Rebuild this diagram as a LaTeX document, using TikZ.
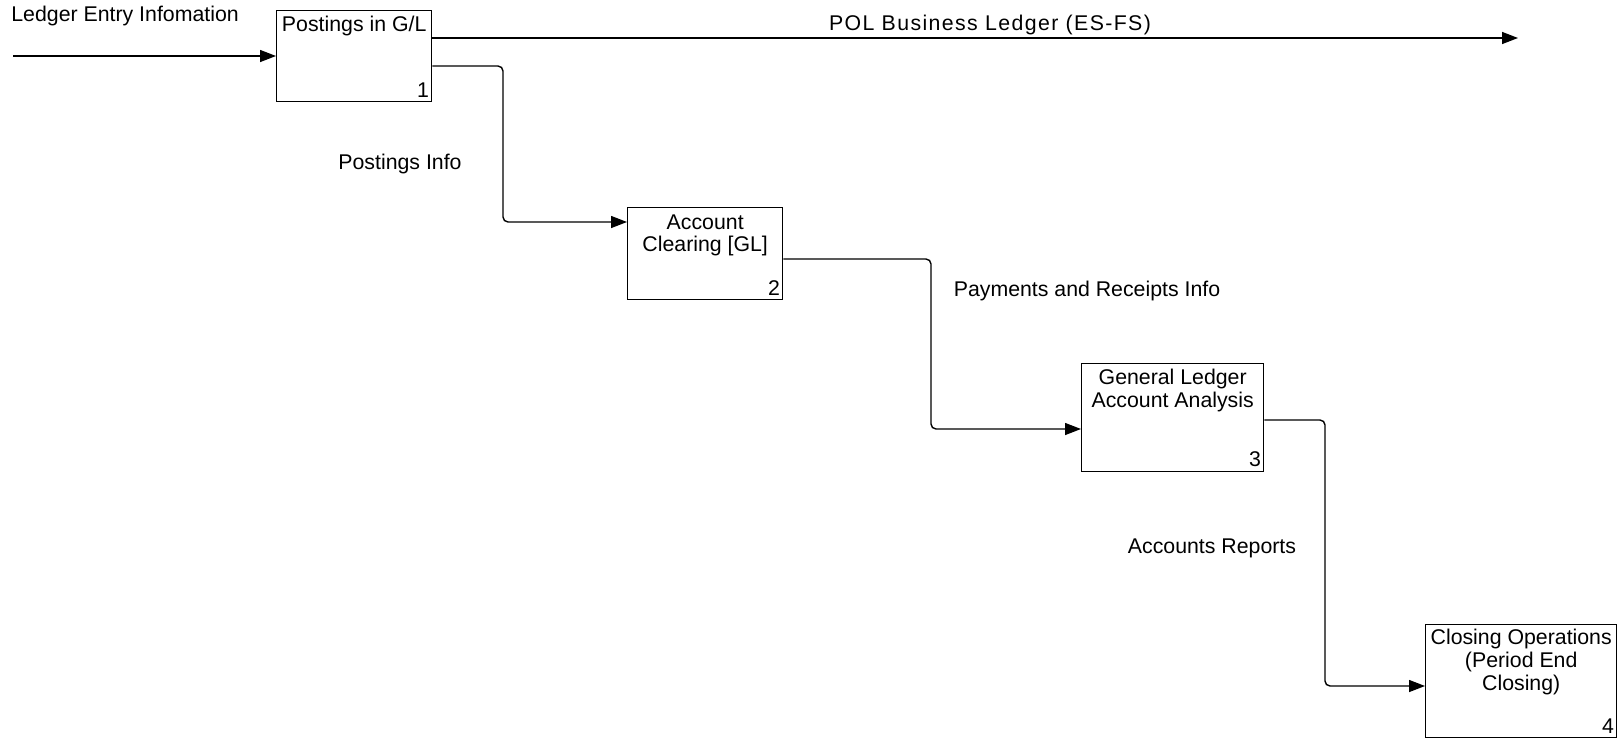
\documentclass[tikz,border=0pt]{standalone}
\usepackage{fontspec}
\setmainfont{Liberation Sans}
\usetikzlibrary{arrows.meta}
\begin{document}
\begin{tikzpicture}[x=0.5pt,y=-0.5pt,
  txt/.style={font=\fontsize{10.65}{11.35}\selectfont, inner sep=0pt},
  box/.style={draw, line width=0.7pt, inner sep=0pt, anchor=north west},
  title/.style={txt, align=center, anchor=north},
  num/.style={txt, anchor=south east},
  flow/.style={line width=0.7pt, -{Triangle[length=8pt,width=6pt]}, rounded corners=2.5pt}]
\useasboundingbox (0,0) rectangle (1617,739);

% activity boxes
\node[box, minimum width=77.5pt, minimum height=45.5pt] (b1) at (276,10) {};
\node[box, minimum width=77.5pt, minimum height=46pt] (b2) at (627,207) {};
\node[box, minimum width=91pt, minimum height=54pt] (b3) at (1081,363) {};
\node[box, minimum width=95.5pt, minimum height=56.5pt] (b4) at (1425,624) {};

% box titles
\node[title] (t1) at ([yshift=-3pt]b1.north) {Postings in G/L};
\node[title] (t2) at ([yshift=-3.5pt]b2.north) {Account\\Clearing [GL]};
\node[title] (t3) at ([yshift=-3pt]b3.north) {General Ledger\\Account Analysis};
\node[title] (t4) at ([yshift=-2.5pt]b4.north) {Closing Operations\\(Period End\\Closing)};

% box numbers
\node[num] (n1) at ([xshift=-1.5pt,yshift=2.5pt]b1.south east) {1};
\node[num] (n2) at ([xshift=-1.5pt,yshift=2.5pt]b2.south east) {2};
\node[num] (n3) at ([xshift=-1.5pt,yshift=2.5pt]b3.south east) {3};
\node[num] (n4) at ([xshift=-1.5pt,yshift=2.5pt]b4.south east) {4};

% connector waypoints
\coordinate (src) at (13,56);
\coordinate (polend) at (1518,38);
\coordinate (p1) at (503,66);
\coordinate (p2) at (503,222);
\coordinate (q1) at (931,259);
\coordinate (q2) at (931,429);
\coordinate (r1) at (1325,420);
\coordinate (r2) at (1325,686);

% connectors
\draw[flow] (src) -- (src -| b1.west);
\draw[flow] (polend -| b1.east) -- (polend);
\draw[flow] (p1 -| b1.east) -- (p1) -- (p2) -- (p2 -| b2.west);
\draw[flow] (q1 -| b2.east) -- (q1) -- (q2) -- (q2 -| b3.west);
\draw[flow] (r1 -| b3.east) -- (r1) -- (r2) -- (r2 -| b4.west);

% connector labels
\node[txt, anchor=west] (l0) at (11,16) {Ledger Entry Infomation};
\node[txt] (l1) at (990,25) {\addfontfeature{LetterSpace=6.5}POL Business Ledger (ES-FS)};
\node[txt] (l2) at (400,164) {Postings Info};
\node[txt] (l3) at (1087,291) {Payments and Receipts Info};
\node[txt] (l4) at (1212,548) {Accounts Reports};
\end{tikzpicture}
\end{document}
